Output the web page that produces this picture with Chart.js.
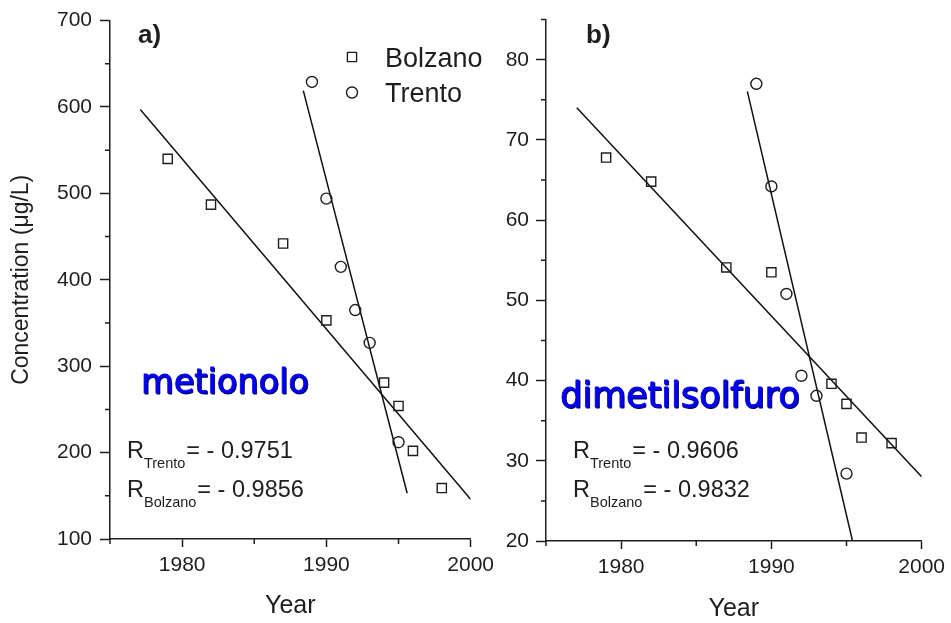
<!DOCTYPE html>
<html>
<head>
<meta charset="utf-8">
<script src="https://cdn.jsdelivr.net/npm/chart.js@4.4.1/dist/chart.umd.min.js"></script>
<style>
  body { margin: 0; background: #fff; }
  #wrap { position: relative; width: 951px; height: 623px; overflow: hidden; }
  canvas { position: absolute; top: 0; }
  #chartA { left: 0; }
  #chartB { left: 480px; }
</style>
</head>
<body>
<div id="wrap">
  <canvas id="chartA" width="500" height="623"></canvas>
  <canvas id="chartB" width="471" height="623"></canvas>
</div>
<script>
// a) metionolo
let bolzanoYearsA = [1979, 1982, 1987, 1990, 1994, 1995, 1996, 1998];
let bolzanoA = [540, 487, 442, 353, 281, 254, 202, 159];
let trentoYearsA = [1989, 1990, 1991, 1992, 1993, 1995];
let trentoA = [629, 494, 415, 365, 327, 212];
let bolzanoFitYearsA = [1977.1, 2000];
let bolzanoFitA = [597, 146];
let trentoFitYearsA = [1988.4, 1995.6];
let trentoFitA = [619, 153];
let rValuesA = [-0.9751, -0.9856];

// b) dimetilsolfuro
let bolzanoYearsB = [1979, 1982, 1987, 1990, 1994, 1995, 1996, 1998];
let bolzanoB = [67.8, 64.8, 54.1, 53.5, 39.6, 37.1, 32.9, 32.2];
let trentoYearsB = [1989, 1990, 1991, 1992, 1993, 1995];
let trentoB = [77.0, 64.2, 50.8, 40.6, 38.1, 28.4];
let bolzanoFitYearsB = [1977.05, 2000];
let bolzanoFitB = [74.0, 28.0];
let trentoFitYearsB = [1988.4, 1995.4];
let trentoFitB = [76.05, 20];
let rValuesB = [-0.9606, -0.9832];

let rNames = ["Trento", "Bolzano"];

let xMajor = [1980, 1990, 2000];
let xMinor = [1975, 1985, 1995];
let yMajorA = [100, 200, 300, 400, 500, 600, 700];
let yMinorA = [150, 250, 350, 450, 550, 650];
let yMajorB = [20, 30, 40, 50, 60, 70, 80];
let yMinorB = [25, 35, 45, 55, 65, 75, 85];

const ink = "#1e1e1e";
const sans = "'Liberation Sans', Arial, sans-serif";

const toPoints = (xs, ys) => xs.map((x, i) => ({ x: x, y: ys[i] }));

// short unlabelled ticks between the labelled ones
const minorTicks = {
  id: "minorTicks",
  afterDraw(chart, args, opts) {
    const ctx = chart.ctx;
    const xs = chart.scales.x;
    const ys = chart.scales.y;
    ctx.save();
    ctx.strokeStyle = ink;
    ctx.lineWidth = 1.5;
    ctx.beginPath();
    opts.x.forEach((v) => {
      const px = xs.getPixelForValue(v);
      ctx.moveTo(px, xs.top);
      ctx.lineTo(px, xs.top + opts.len);
    });
    opts.y.forEach((v) => {
      const py = ys.getPixelForValue(v);
      ctx.moveTo(ys.right, py);
      ctx.lineTo(ys.right - opts.len, py);
    });
    ctx.stroke();
    ctx.restore();
  },
};

// panel letter, compound name, correlation coefficients and legend
const notes = {
  id: "notes",
  afterDraw(chart, args, o) {
    const ctx = chart.ctx;
    ctx.save();
    ctx.textAlign = "left";
    ctx.textBaseline = "alphabetic";

    ctx.fillStyle = ink;
    ctx.font = "bold 26px " + sans;
    ctx.fillText(o.panel, o.panelAt[0], o.panelAt[1]);

    // blue name with a dark edge on the lower right
    ctx.font = o.nameSize + "px 'DejaVu Sans', sans-serif";
    ctx.lineJoin = "round";
    ctx.fillStyle = "#00004a";
    ctx.strokeStyle = "#00004a";
    ctx.lineWidth = 0.8;
    ctx.fillText(o.name, o.nameAt[0] + 1, o.nameAt[1] + 1);
    ctx.strokeText(o.name, o.nameAt[0] + 1, o.nameAt[1] + 1);
    ctx.fillStyle = "#0000f5";
    ctx.strokeStyle = "#0000f5";
    ctx.fillText(o.name, o.nameAt[0], o.nameAt[1]);
    ctx.strokeText(o.name, o.nameAt[0], o.nameAt[1]);

    ctx.fillStyle = ink;
    o.r.forEach((r, i) => {
      const x = o.rAt[0];
      const y = o.rAt[1] + i * o.rGap;
      ctx.font = "23.5px " + sans;
      ctx.fillText("R", x, y);
      const w1 = ctx.measureText("R").width;
      ctx.font = "14.5px " + sans;
      ctx.fillText(rNames[i], x + w1, y + 10);
      const w2 = ctx.measureText(rNames[i]).width;
      ctx.font = "23.5px " + sans;
      ctx.fillText("= - " + Math.abs(r).toFixed(4), x + w1 + w2 + 1, y);
    });

    if (o.legend) {
      const sets = chart.data.datasets.slice(0, 2);
      sets.forEach((ds, i) => {
        const cy = o.legend[1] + i * 35.5;
        ctx.fillStyle = "rgba(0,0,0,0)";
        ctx.strokeStyle = ink;
        ctx.lineWidth = ds.borderWidth;
        Chart.helpers.drawPoint(ctx, {
          pointStyle: ds.pointStyle,
          radius: ds.pointRadius,
          borderWidth: ds.borderWidth,
        }, o.legend[0], cy);
        ctx.fillStyle = ink;
        ctx.font = "27px " + sans;
        ctx.fillText(ds.label, o.legend[0] + 33, cy + 9.5);
      });
    }
    ctx.restore();
  },
};

function makePanel(id, p) {
  const marker = { borderColor: ink, backgroundColor: "rgba(0,0,0,0)", borderWidth: 1.4 };
  const fit = { showLine: true, pointRadius: 0, borderColor: "#111", borderWidth: 1.5 };
  return new Chart(document.getElementById(id), {
    type: "scatter",
    data: {
      datasets: [
        Object.assign({ label: "Bolzano", data: p.bolzano, pointStyle: "rect", pointRadius: 6.5 }, marker),
        Object.assign({ label: "Trento", data: p.trento, pointStyle: "circle", pointRadius: 5.5 }, marker),
        Object.assign({ data: p.bolzanoFit }, fit),
        Object.assign({ data: p.trentoFit }, fit),
      ],
    },
    options: {
      responsive: false,
      animation: false,
      events: [],
      layout: { autoPadding: false, padding: { left: 0, top: 19, right: p.padRight, bottom: 0 } },
      plugins: {
        legend: { display: false },
        tooltip: { enabled: false },
        minorTicks: { x: xMinor, y: p.yMinor, len: 5 },
        notes: p.notes,
      },
      scales: {
        x: {
          type: "linear",
          min: 1975,
          max: 2000,
          afterBuildTicks: (s) => { s.ticks = xMajor.map((v) => ({ value: v })); },
          afterFit: (s) => { s.height = p.xHeight; },
          ticks: { font: { family: sans, size: 21 }, color: ink, padding: 6, callback: (v) => String(v) },
          grid: { drawOnChartArea: false, tickLength: 8, tickWidth: 1.5, tickColor: ink },
          border: { color: ink, width: 1.5 },
          title: {
            display: true,
            text: "Year",
            color: ink,
            font: { family: sans, size: 25, lineHeight: 1 },
            padding: { top: 0, bottom: p.yearPad },
          },
        },
        y: {
          min: p.yMin,
          max: p.yMax,
          afterBuildTicks: (s) => { s.ticks = p.yMajor.map((v) => ({ value: v })); },
          afterFit: (s) => { s.width = p.yWidth; },
          ticks: { font: { family: sans, size: 21 }, color: ink, padding: p.yPad, callback: (v) => String(v) },
          grid: { drawOnChartArea: false, tickLength: 10, tickWidth: 1.5, tickColor: ink },
          border: { color: ink, width: 1.5 },
          title: {
            display: !!p.yTitle,
            text: p.yTitle || "",
            color: ink,
            font: { family: sans, size: 23, lineHeight: 1.2 },
            padding: { top: 8, bottom: 0 },
          },
        },
      },
    },
    plugins: [minorTicks, notes],
  });
}

makePanel("chartA", {
  bolzano: toPoints(bolzanoYearsA, bolzanoA),
  trento: toPoints(trentoYearsA, trentoA),
  bolzanoFit: toPoints(bolzanoFitYearsA, bolzanoFitA),
  trentoFit: toPoints(trentoFitYearsA, trentoFitA),
  yMin: 100,
  yMax: 700,
  yMajor: yMajorA,
  yMinor: yMinorA,
  yWidth: 110,
  yPad: 8,
  xHeight: 84,
  padRight: 23,
  yearPad: 4.5,
  yTitle: "Concentration (\u03bcg/L)",
  notes: {
    panel: "a)",
    panelAt: [138, 43],
    name: "metionolo",
    nameSize: 33.5,
    nameAt: [141, 393],
    r: rValuesA,
    rAt: [127, 458],
    rGap: 39,
    legend: [352, 57],
  },
});

makePanel("chartB", {
  bolzano: toPoints(bolzanoYearsB, bolzanoB),
  trento: toPoints(trentoYearsB, trentoB),
  bolzanoFit: toPoints(bolzanoFitYearsB, bolzanoFitB),
  trentoFit: toPoints(trentoFitYearsB, trentoFitB),
  yMin: 20,
  yMax: 85,
  yMajor: yMajorB,
  yMinor: yMinorB,
  yWidth: 66,
  yPad: 7,
  xHeight: 82,
  padRight: 27,
  yearPad: 1.5,
  yTitle: null,
  notes: {
    panel: "b)",
    panelAt: [106, 43],
    name: "dimetilsolfuro",
    nameSize: 35,
    nameAt: [80, 407],
    r: rValuesB,
    rAt: [93, 458],
    rGap: 39,
    legend: null,
  },
});
</script>
</body>
</html>
